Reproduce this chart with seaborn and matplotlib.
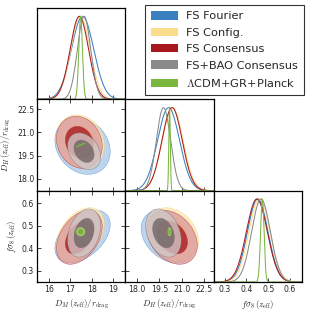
import numpy as np
import matplotlib
matplotlib.use("Agg")
import matplotlib.pyplot as plt
import seaborn as sns
from matplotlib.patches import Patch
from matplotlib.ticker import FormatStrFormatter

# ---------------- data ----------------
labels = ["FS Fourier", "FS Config.", "FS Consensus", "FS+BAO Consensus",
          r"$\Lambda$CDM+GR+Planck"]
dm_mean = [17.57, 17.47, 17.42, 17.64, 17.48]
dm_sig = [0.52, 0.45, 0.43, 0.31, 0.085]
dh_mean = [20.12, 20.40, 20.36, 19.78, 20.19]
dh_sig = [0.74, 0.70, 0.68, 0.48, 0.05]
fs8_mean = [0.452, 0.460, 0.448, 0.467, 0.473]
fs8_sig = [0.047, 0.048, 0.048, 0.043, 0.008]
corr_dm_dh = [-0.20, -0.15, -0.15, -0.30, 0.93]
corr_dm_fs8 = [0.45, 0.40, 0.40, 0.30, 0.0]
corr_dh_fs8 = [-0.30, -0.25, -0.30, -0.30, 0.0]

dm_ticks = [16, 17, 18, 19]
dh_ticks = [18.0, 19.5, 21.0, 22.5]
fs8_ticks = [0.3, 0.4, 0.5, 0.6]

# ---------------- style ----------------
line_colors = ["#3a7fc0", "#fbdc8a", "#a8191d", "#8a8a8a", "#7ab640"]
dark_fill = ["#3a7fc0", "#f7cf6a", "#a8191d", "#6e6464", "#6aac2a"]
light_fill = ["#a9c9e8", "#fde7b4", "#de9c9c", "#cfc8c8", "#c4e392"]

sns.set_style("ticks")
plt.rcParams["font.family"] = ["DejaVu Sans"]
plt.rcParams["mathtext.fontset"] = "cm"

fig = plt.figure(figsize=(3.10, 3.13), dpi=100)
gs = fig.add_gridspec(3, 3, left=37/310, right=302/310, top=1-8/313,
                      bottom=1-282/313, wspace=0, hspace=0)

ranges = {"dm": (15.44, 19.57), "dh": (17.22, 23.15), "fs8": (0.25, 0.655)}
means = {"dm": dm_mean, "dh": dh_mean, "fs8": fs8_mean}
sigs = {"dm": dm_sig, "dh": dh_sig, "fs8": fs8_sig}
ticks = {"dm": dm_ticks, "dh": dh_ticks, "fs8": fs8_ticks}
fmts = {"dm": "%d", "dh": "%.1f", "fs8": "%.1f"}
corrs = {("dm", "dh"): corr_dm_dh, ("dm", "fs8"): corr_dm_fs8,
         ("dh", "fs8"): corr_dh_fs8}
names = ["dm", "dh", "fs8"]
axlabels = {"dm": r"$D_M\,(z_{\rm eff})/r_{\rm drag}$",
            "dh": r"$D_H\,(z_{\rm eff})/r_{\rm drag}$",
            "fs8": r"$f\sigma_8\,(z_{\rm eff})$"}

tick_fs = 5.6
lab_fs = 6.3


def style_axis(ax, twod):
    for s in ax.spines.values():
        s.set_linewidth(0.9)
        s.set_color("black")
    if twod:
        ax.tick_params(direction="in", length=2.6, width=0.6, top=True,
                       right=True, bottom=True, left=True, labelsize=tick_fs,
                       pad=2)
    else:
        ax.tick_params(direction="in", length=2.6, width=0.6, top=False,
                       right=False, left=False, bottom=True, labelsize=tick_fs,
                       pad=2)


def ellipse_pts(mx, my, sx, sy, r, k):
    cov = np.array([[sx**2, r*sx*sy], [r*sx*sy, sy**2]])
    L = np.linalg.cholesky(cov)
    t = np.linspace(0, 2*np.pi, 200)
    circ = np.vstack([np.cos(t), np.sin(t)]) * k
    pts = L @ circ
    return mx + pts[0], my + pts[1]


k68 = np.sqrt(-2*np.log(1-0.6827))
k95 = np.sqrt(-2*np.log(1-0.9545))

for i in range(3):
    for j in range(i+1):
        ax = fig.add_subplot(gs[i, j])
        xn = names[j]
        ax.set_xlim(*ranges[xn])
        ax.set_xticks(ticks[xn])
        ax.xaxis.set_major_formatter(FormatStrFormatter(fmts[xn]))
        if i == j:
            xs = np.linspace(ranges[xn][0], ranges[xn][1], 800)
            for d in range(5):
                ys = np.exp(-0.5*((xs-means[xn][d])/sigs[xn][d])**2)
                sns.lineplot(x=xs, y=ys, ax=ax, color=line_colors[d],
                             lw=0.75, legend=False)
            ax.set_ylim(0, 1.1)
            ax.set_yticks([])
            style_axis(ax, False)
        else:
            yn = names[i]
            ax.set_ylim(*ranges[yn])
            ax.set_yticks(ticks[yn])
            ax.yaxis.set_major_formatter(FormatStrFormatter(fmts[yn]))
            rr = corrs[(xn, yn)]
            for d in range(5):
                for k, col in ((k95, light_fill[d]), (k68, dark_fill[d])):
                    ex, ey = ellipse_pts(means[xn][d], means[yn][d],
                                         sigs[xn][d], sigs[yn][d], rr[d], k)
                    ax.fill(ex, ey, facecolor=col, edgecolor=dark_fill[d],
                            lw=0.3, alpha=0.78, zorder=2+d)
            style_axis(ax, True)
        if i == 2:
            ax.set_xlabel(axlabels[xn], fontsize=lab_fs, labelpad=3)
        else:
            ax.set_xticklabels([])
            ax.set_xlabel("")
        if j == 0 and i > 0:
            ax.set_ylabel(axlabels[names[i]], fontsize=lab_fs, labelpad=3)
        else:
            if i != j:
                ax.set_yticklabels([])
            ax.set_ylabel("")

handles = [Patch(facecolor=c, edgecolor="none") for c in line_colors]
leg = fig.legend(handles, labels, loc="upper right",
                 bbox_to_anchor=(304/310, 1-5/313), fontsize=8.2,
                 handlelength=2.35, handleheight=0.75, handletextpad=0.7,
                 labelspacing=0.55, borderpad=0.55, borderaxespad=0,
                 fancybox=False, frameon=True)
leg.get_frame().set_edgecolor("black")
leg.get_frame().set_linewidth(0.8)

fig.savefig("out.png", dpi=100)
